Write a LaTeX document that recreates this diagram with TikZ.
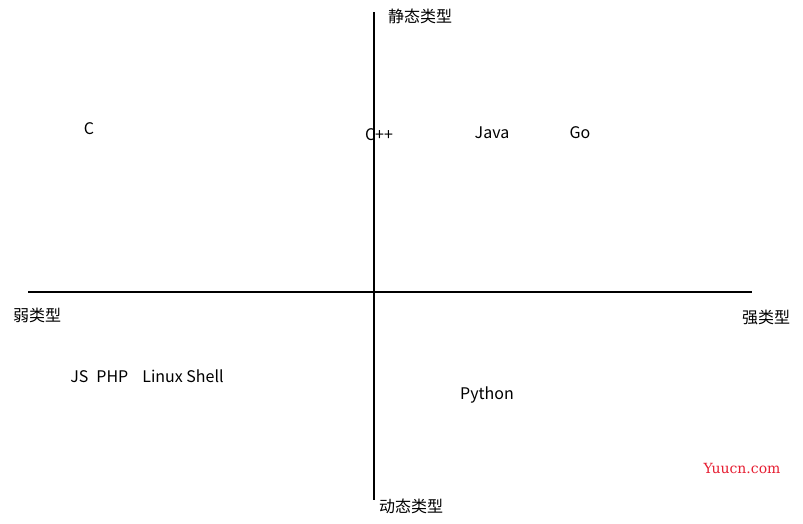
\documentclass[tikz,border=0pt]{standalone}
\usepackage{fontspec}
\setmainfont{Noto Sans CJK SC}
\newfontfamily\webfont{DejaVu Serif}
\begin{document}
\begin{tikzpicture}[x=1pt,y=-1pt,lbl/.style={inner sep=0pt,font=\fontsize{16}{19}\selectfont},ax/.style={line width=2.5pt}]
\useasboundingbox (0,0) rectangle (803,523);
\coordinate (vt) at (374,12); \coordinate (vb) at (374,500);
\coordinate (hl) at (28,292); \coordinate (hr) at (752,292);
\draw[ax] (vt) -- (vb);
\draw[ax] (hl) -- (hr);
\node[lbl] (s) at (420,16) {静态类型};
\node[lbl] (d) at (411,506) {动态类型};
\node[lbl] (w) at (37,315) {弱类型};
\node[lbl] (q) at (766,317) {强类型};
\node[lbl] (c) at (89,129) {C};
\node[lbl] (cpp) at (379,135) {C++};
\node[lbl] (java) at (492,133) {Java};
\node[lbl] (go) at (580,133) {Go};
\node[lbl] (js) at (147,376) {JS\hspace{8pt}PHP\hspace{14pt}Linux Shell};
\node[lbl] (py) at (487,395) {Python};
\node[lbl,text={rgb,255:red,230;green,30;blue,50},font=\webfont\fontsize{14}{16}\selectfont] (y) at (742,468) {Yuucn.com};
\end{tikzpicture}
\end{document}
